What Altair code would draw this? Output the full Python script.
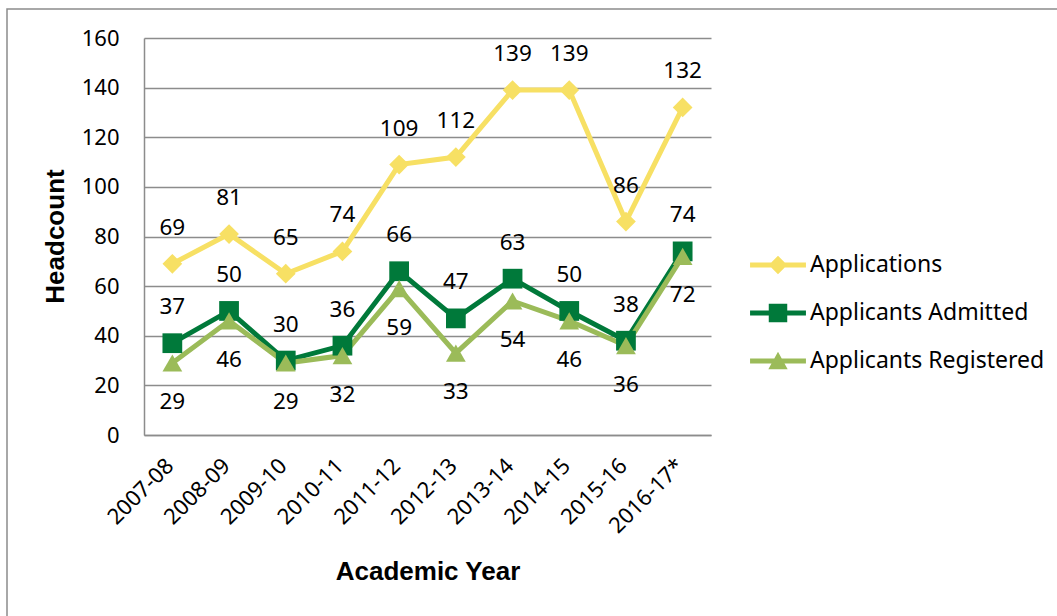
import altair as alt
import pandas as pd

# ---------------- data ----------------
years = ["2007-08", "2008-09", "2009-10", "2010-11", "2011-12",
         "2012-13", "2013-14", "2014-15", "2015-16", "2016-17*"]
applications = [69, 81, 65, 74, 109, 112, 139, 139, 86, 132]
admitted = [37, 50, 30, 36, 66, 47, 63, 50, 38, 74]
registered = [29, 46, 29, 32, 59, 33, 54, 46, 36, 72]

series_names = ["Applications", "Applicants Admitted", "Applicants Registered"]
series_values = [applications, admitted, registered]

# ---------------- styling ----------------
series_colors = ["#F7E064", "#00793A", "#9BBB59"]
series_shapes = ["diamond", "square", "triangle-up"]
# legend symbols: a line segment with the marker on it (unit coordinates)
legend_paths = [
    "M-1.27,-0.115L1.27,-0.115L1.27,0.115L-1.27,0.115Z M-0.42,0L0,-0.42L0.42,0L0,0.42Z",
    "M-1.27,-0.115L1.27,-0.115L1.27,0.115L-1.27,0.115Z M-0.42,-0.42L0.42,-0.42L0.42,0.42L-0.42,0.42Z",
    "M-1.27,-0.115L1.27,-0.115L1.27,0.115L-1.27,0.115Z M0,-0.42L0.44,0.38L-0.44,0.38Z",
]
# label side per series: above (-) or below (+), in pixels
label_dy = {"Applications": -36, "Applicants Admitted": -36, "Applicants Registered": 39}

FONT = "Noto Sans"
TITLE_FONT = "Liberation Sans"
W, H = 567, 397
PAD = {"left": 144, "top": 38, "right": 1057 - 144 - W, "bottom": 616 - 38 - H}

rows = []
for name, vals in zip(series_names, series_values):
    for yr, v in zip(years, vals):
        rows.append({"year": yr, "series": name, "value": v})
df = pd.DataFrame(rows)

x_enc = alt.X(
    "year:N", sort=years,
    scale=alt.Scale(type="point", padding=0.5),
    axis=alt.Axis(
        title="Academic Year", labelAngle=-45, labelFont=FONT, labelFontSize=22,
        labelColor="#000000", labelPadding=27, labelOffset=-3,
        labelAlign="right", labelBaseline="middle",
        ticks=False, tickSize=0, domainColor="#8C8C8C", domainWidth=1.5,
        titleFont=TITLE_FONT, titleFontSize=26, titleFontWeight="bold", titleColor="#000000",
        titleX=283.5, titleY=136, titleAlign="center", titleBaseline="middle",
    ),
)
y_enc = alt.Y(
    "value:Q",
    scale=alt.Scale(domain=[0, 160], nice=False, zero=True),
    axis=alt.Axis(
        title="Headcount", values=list(range(0, 161, 20)), labelFont=FONT, labelFontSize=22,
        labelColor="#000000", labelPadding=25, ticks=False, tickSize=0,
        domainColor="#8C8C8C", domainWidth=1.5,
        grid=True, gridColor="#8C8C8C", gridWidth=1.5,
        titleFont=TITLE_FONT, titleFontSize=26, titleFontWeight="bold", titleColor="#000000",
        titleAngle=270, titleX=-88.5, titleY=198, titleAlign="center", titleBaseline="middle",
    ),
)
color_scale = alt.Scale(domain=series_names, range=series_colors)

base = alt.Chart(df)

lines = base.mark_line(strokeWidth=5).encode(
    x=x_enc, y=y_enc,
    color=alt.Color("series:N", scale=color_scale, legend=None),
    detail="series:N",
)

points = base.mark_point(filled=True, opacity=1, size=390).encode(
    x=x_enc, y=y_enc,
    color=alt.Color("series:N", scale=color_scale, legend=None),
    shape=alt.Shape("series:N", scale=alt.Scale(domain=series_names, range=series_shapes), legend=None),
)

label_layers = []
for name in series_names:
    label_layers.append(
        base.transform_filter(alt.datum.series == name).mark_text(
            font=FONT, fontSize=22.5, color="#000000", baseline="middle", align="center",
            dy=label_dy[name],
        ).encode(x=x_enc, y=y_enc, text="value:Q")
    )

legend_layer = base.mark_point(filled=True, opacity=0).encode(
    x=x_enc, y=y_enc,
    color=alt.Color("series:N", scale=color_scale, legend=alt.Legend(title=None)),
    shape=alt.Shape(
        "series:N", scale=alt.Scale(domain=series_names, range=legend_paths),
        legend=alt.Legend(
            title=None, orient="none", legendX=612, legendY=205, padding=0,
            symbolSize=1936, symbolStrokeWidth=0, symbolOpacity=1,
            labelFont=FONT, labelFontSize=23, labelColor="#000000", labelOffset=10,
            labelLimit=0, rowPadding=14,
        ),
    ),
)

frame = alt.Chart(pd.DataFrame({"k": [0]})).mark_rect(
    fillOpacity=0, stroke="#8C8C8C", strokeWidth=1.5
).encode(
    x=alt.value(7 - PAD["left"]), x2=alt.value(1057 - PAD["left"] + 20),
    y=alt.value(9 - PAD["top"]), y2=alt.value(616 - PAD["top"] + 20),
)

chart = alt.layer(frame, lines, points, *label_layers, legend_layer).resolve_scale(
    color="independent", shape="independent"
).properties(
    width=W, height=H, padding=PAD,
    autosize=alt.AutoSizeParams(type="none"),
    background="#FFFFFF",
).configure_view(stroke=None)

chart.save("out.html", embed_options={"renderer": "svg", "actions": False})
